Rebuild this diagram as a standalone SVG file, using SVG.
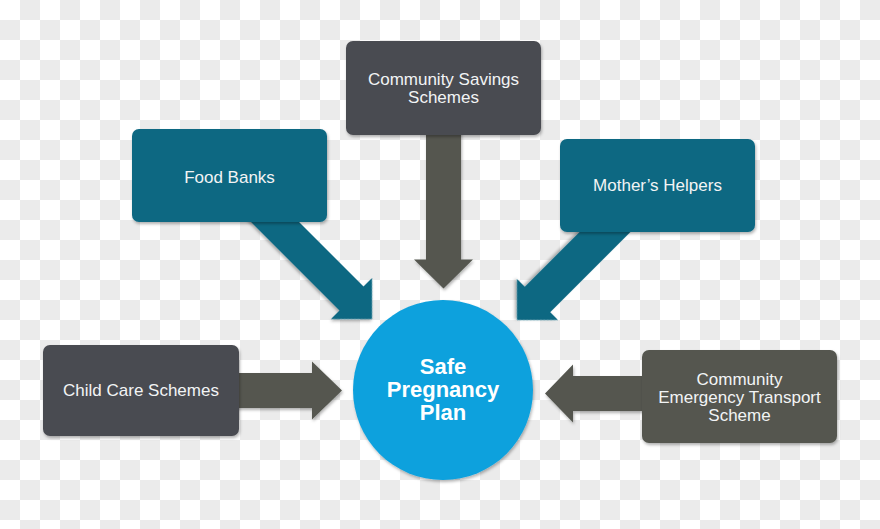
<svg xmlns="http://www.w3.org/2000/svg" width="880" height="529" viewBox="0 0 880 529">
  <defs>
    <pattern id="checker" patternUnits="userSpaceOnUse" width="40" height="40">
      <rect width="40" height="40" fill="#ffffff"/>
      <rect x="20" y="0" width="20" height="20" fill="#ebebeb"/>
      <rect x="0" y="20" width="20" height="20" fill="#ebebeb"/>
    </pattern>
    <filter id="shadow" x="-20%" y="-20%" width="140%" height="140%">
      <feDropShadow dx="1" dy="2" stdDeviation="1.8" flood-color="#000" flood-opacity="0.3"/>
    </filter>
  </defs>
  <style>
    .dark { fill: #4a4b51; }
    .olive { fill: #55574f; }
    .teal { fill: #0a6782; }
    .box { filter: url(#shadow); }
    .arrow { filter: url(#shadow); }
    .lbl { font-family: "Liberation Sans", Arial, sans-serif; font-size: 17px; fill: #f2f4f5; text-anchor: middle; }
    .center { font-family: "Liberation Sans", Arial, sans-serif; font-size: 22px; font-weight: bold; fill: #ffffff; text-anchor: middle; }
  </style>

  <rect width="880" height="529" fill="url(#checker)"/>

  <g id="connectors">
    <polygon class="arrow olive" points="426,125 461,125 461,259.5 473,259.5 443.5,288.5 414,259.5 426,259.5"/>
    <polygon class="arrow teal" transform="translate(372,319) rotate(45)" points="0,0 -29,-29 -29,-17 -160,-17 -160,17 -29,17 -29,29"/>
    <polygon class="arrow teal" transform="translate(517,320) rotate(135)" points="0,0 -29,-29 -29,-18 -160,-18 -160,18 -29,18 -29,29"/>
    <polygon class="arrow olive" points="230,373 312,373 312,361.5 342,390.5 312,419.5 312,408 230,408"/>
    <polygon class="arrow olive" points="650,376 573,376 573,364.5 545,393.5 573,422.5 573,411 650,411"/>
  </g>

  <g id="community-savings">
    <rect class="box dark" x="346" y="41" width="195" height="94" rx="7"/>
    <text class="lbl" x="443.5" y="85">Community Savings</text>
    <text class="lbl" x="443.5" y="102.5">Schemes</text>
  </g>

  <g id="food-banks">
    <rect class="box teal" x="132" y="129" width="195" height="93" rx="7"/>
    <text class="lbl" x="229.5" y="183">Food Banks</text>
  </g>

  <g id="mothers-helpers">
    <rect class="box teal" x="560" y="139" width="195" height="93" rx="7"/>
    <text class="lbl" x="657.5" y="191">Mother’s Helpers</text>
  </g>

  <g id="child-care">
    <rect class="box dark" x="43" y="345" width="196" height="91" rx="7"/>
    <text class="lbl" x="141" y="396">Child Care Schemes</text>
  </g>

  <g id="emergency-transport">
    <rect class="box olive" x="642" y="350" width="195" height="93" rx="7"/>
    <text class="lbl" x="739.5" y="385">Community</text>
    <text class="lbl" x="739.5" y="403">Emergency Transport</text>
    <text class="lbl" x="739.5" y="420.5">Scheme</text>
  </g>

  <g id="safe-pregnancy-plan">
    <circle class="box" cx="443" cy="390" r="90" fill="#0ea1dd"/>
    <text class="center" x="443" y="374">Safe</text>
    <text class="center" x="443" y="397">Pregnancy</text>
    <text class="center" x="443" y="420">Plan</text>
  </g>
</svg>
